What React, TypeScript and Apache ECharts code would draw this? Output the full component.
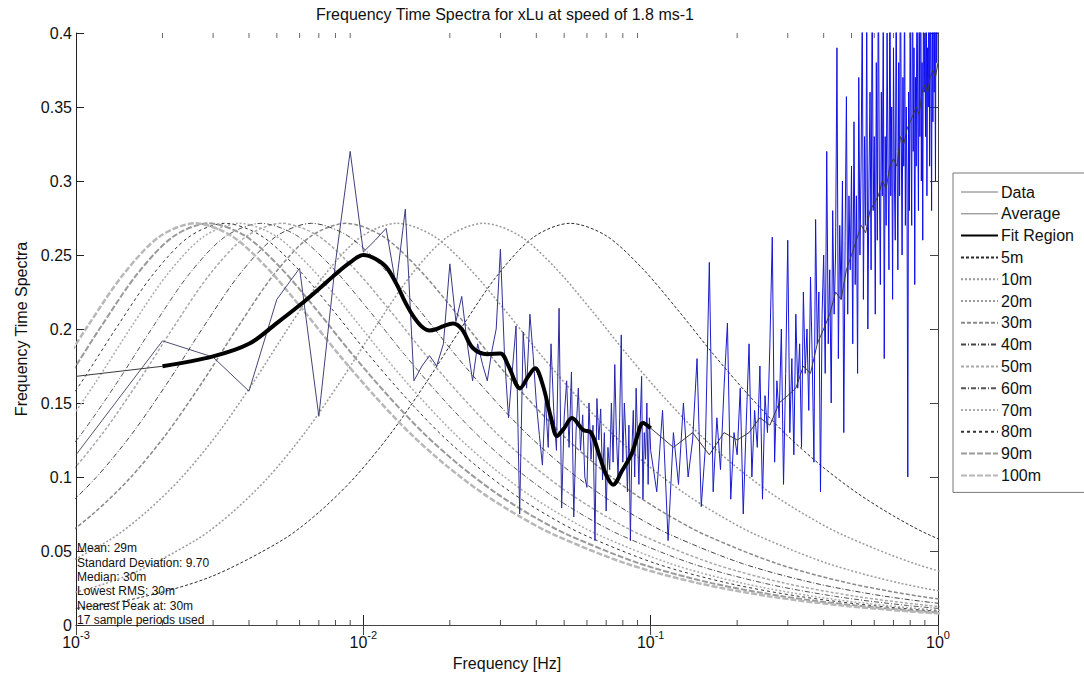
import React, { useEffect, useRef } from 'react';
import * as echarts from 'echarts';

const TITLE = 'Frequency Time Spectra for xLu at speed of 1.8 ms-1';
const X_NAME = 'Frequency [Hz]';
const Y_NAME = 'Frequency Time Spectra';
const STATS = [
  'Mean: 29m',
  'Standard Deviation: 9.70',
  'Median: 30m',
  'Lowest RMS: 30m',
  'Nearest Peak at: 30m',
  '17 sample periods used',
];

// Spectrum "Data": bins of 0.001 Hz from 0.001 to 0.100 Hz
const DATA_LOW_START = 0.001;
const DATA_LOW_STEP = 0.001;
const DATA_LOW = [
  0.115, 0.192, 0.181, 0.158, 0.22, 0.241, 0.141, 0.245, 0.32, 0.252,
  0.26, 0.268, 0.229, 0.281, 0.165, 0.175, 0.182, 0.175, 0.19, 0.244,
  0.205, 0.222, 0.19, 0.165, 0.19, 0.176, 0.165, 0.185, 0.2, 0.254,
  0.182, 0.14, 0.172, 0.202, 0.075, 0.198, 0.16, 0.21, 0.182, 0.15,
  0.128, 0.108, 0.153, 0.12, 0.19, 0.144, 0.118, 0.214, 0.079, 0.14,
  0.165, 0.12, 0.171, 0.073, 0.131, 0.16, 0.118, 0.142, 0.1, 0.093,
  0.15, 0.112, 0.135, 0.057, 0.153, 0.125, 0.146, 0.098, 0.13, 0.077,
  0.12, 0.105, 0.15, 0.11, 0.176, 0.128, 0.1, 0.14, 0.196, 0.11,
  0.15, 0.125, 0.09, 0.135, 0.057, 0.118, 0.145, 0.1, 0.16, 0.128,
  0.095, 0.138, 0.168, 0.085, 0.13, 0.112, 0.15, 0.095, 0.14, 0.118,
];
// Spectrum "Data": bins of 0.005 Hz from 0.105 to 1.0 Hz
const DATA_HIGH_START = 0.105;
const DATA_HIGH_STEP = 0.005;
const DATA_HIGH = [
  0.09, 0.145, 0.057, 0.13, 0.095, 0.15, 0.1, 0.125, 0.18, 0.08,
  0.12, 0.245, 0.09, 0.14, 0.105, 0.16, 0.204, 0.085, 0.13, 0.115,
  0.16, 0.075, 0.135, 0.19, 0.1, 0.145, 0.12, 0.175, 0.085, 0.155,
  0.13, 0.19, 0.262, 0.11, 0.165, 0.14, 0.2, 0.095, 0.17, 0.26,
  0.13, 0.18, 0.115, 0.21, 0.16, 0.19, 0.12, 0.225, 0.17, 0.2,
  0.145, 0.235, 0.18, 0.11, 0.274, 0.19, 0.225, 0.09, 0.21, 0.25,
  0.17, 0.32, 0.19, 0.24, 0.15, 0.28, 0.21, 0.25, 0.39, 0.18,
  0.27, 0.22, 0.3, 0.13, 0.26, 0.357, 0.21, 0.29, 0.24, 0.31,
  0.19, 0.34, 0.23, 0.29, 0.17, 0.37, 0.25, 0.31, 0.42, 0.22,
  0.33, 0.27, 0.41, 0.2, 0.3, 0.36, 0.24, 0.44, 0.28, 0.33,
  0.21, 0.38, 0.26, 0.45, 0.3, 0.23, 0.36, 0.29, 0.42, 0.18,
  0.33, 0.27, 0.4, 0.31, 0.24, 0.46, 0.29, 0.35, 0.22, 0.39,
  0.3, 0.26, 0.43, 0.32, 0.24, 0.38, 0.29, 0.47, 0.33, 0.25,
  0.37, 0.31, 0.44, 0.27, 0.35, 0.3, 0.1, 0.36, 0.28, 0.41,
  0.34, 0.27, 0.48, 0.32, 0.39, 0.23, 0.37, 0.31, 0.45, 0.35,
  0.28, 0.42, 0.33, 0.5, 0.3, 0.38, 0.26, 0.44, 0.36, 0.4,
  0.33, 0.46, 0.29, 0.39, 0.35, 0.52, 0.31, 0.43, 0.37, 0.28,
  0.45, 0.34, 0.49, 0.36, 0.41, 0.3, 0.47, 0.38, 0.44, 0.4,
];

// Smoothed average over the fit region (0.002 - 0.1 Hz)
const FIT_HZ = [
  0.002, 0.003, 0.004, 0.005, 0.006, 0.007, 0.008, 0.009, 0.01, 0.011,
  0.012, 0.013, 0.014, 0.015, 0.016, 0.017, 0.018, 0.019, 0.0205, 0.022,
  0.0241, 0.027, 0.03, 0.032, 0.0351, 0.0375, 0.0396, 0.042, 0.045, 0.0472,
  0.05, 0.0532, 0.0582, 0.062, 0.0667, 0.07, 0.074, 0.0794, 0.086, 0.09,
  0.094, 0.1,
];
const FIT_VALS = [
  0.1748, 0.1815, 0.19, 0.204, 0.216, 0.227, 0.237, 0.245, 0.25, 0.2475,
  0.242, 0.231, 0.218, 0.208, 0.2015, 0.199, 0.2, 0.202, 0.2037, 0.2,
  0.187, 0.183, 0.1835, 0.175, 0.16, 0.168, 0.1734, 0.163, 0.14, 0.1277,
  0.133, 0.1398, 0.1318, 0.13, 0.113, 0.1015, 0.0948, 0.104, 0.116, 0.128,
  0.1365, 0.133,
];
// Average outside the fit region
const AVG_FIRST_HZ = 0.001;
const AVG_FIRST_VAL = 0.168;
const AVG_HIGH_START = 0.12;
const AVG_HIGH_STEP = 0.02;
const AVG_HIGH = [
  0.12, 0.13, 0.115, 0.13, 0.125, 0.13, 0.14, 0.135, 0.15, 0.155,
  0.16, 0.175, 0.17, 0.19, 0.2, 0.21, 0.225, 0.22, 0.24, 0.25,
  0.26, 0.27, 0.265, 0.28, 0.285, 0.29, 0.3, 0.295, 0.31, 0.315,
  0.31, 0.33, 0.325, 0.335, 0.34, 0.345, 0.35, 0.345, 0.36, 0.365,
  0.36, 0.37, 0.375, 0.37, 0.38,
];

// Model spectra for each length scale: peak frequency read off the plot and
// common curve shape (value vs. decades from the peak)
const SCALE_NAMES = ['5m', '10m', '20m', '30m', '40m', '50m', '60m', '70m', '80m', '90m', '100m'];
const SCALE_PEAK_HZ = [0.0524, 0.0262, 0.0131, 0.0087, 0.0066, 0.0052, 0.0044, 0.0037, 0.0033, 0.0029, 0.0026];
const SHAPE_DECADES = [
  -3, -2.75, -2.5, -2.25, -2, -1.75, -1.5, -1.25, -1, -0.875, -0.75, -0.625, -0.5,
  -0.375, -0.25, -0.125, 0, 0.125, 0.25, 0.375, 0.5, 0.625, 0.75, 0.875, 1, 1.125,
  1.25, 1.5, 1.75, 2, 2.25, 2.5, 2.75, 3,
];
const SHAPE_VALS = [
  0.00058, 0.00104, 0.00184, 0.00327, 0.0058, 0.0104, 0.0184, 0.0326, 0.0575, 0.076, 0.0996, 0.1291, 0.164,
  0.2017, 0.237, 0.2623, 0.2714, 0.2631, 0.2413, 0.2129, 0.1827, 0.1546, 0.1291, 0.1075, 0.0891, 0.0738,
  0.0609, 0.0415, 0.0283, 0.0193, 0.0132, 0.009, 0.0061, 0.0042,
];

const SCALE_STYLES = [
  { color: '#2a2a2a', width: 1, type: [3, 2] },
  { color: '#9a9a9a', width: 1.5, type: [2, 2] },
  { color: '#9a9a9a', width: 1.5, type: [2, 2] },
  { color: '#8a8a8a', width: 1.5, type: [4, 2] },
  { color: '#444444', width: 1, type: [5, 2, 1, 2] },
  { color: '#a8a8a8', width: 1.5, type: [3, 2] },
  { color: '#555555', width: 1, type: [5, 2, 1, 2] },
  { color: '#ababab', width: 1.5, type: [2, 2] },
  { color: '#333333', width: 1, type: [3, 3] },
  { color: '#9a9a9a', width: 2, type: [6, 2] },
  { color: '#b8b8b8', width: 2.5, type: [6, 2] },
];

const MINOR_MULTS = [2, 3, 4, 5, 6, 7, 8, 9];
const DECADES = [0.001, 0.01, 0.1];

const FONT = '"Liberation Sans", Arial, sans-serif';

export default function App() {
  const ref = useRef<HTMLDivElement>(null);

  useEffect(() => {
    if (!ref.current) return;
    const chart = echarts.init(ref.current, undefined, { renderer: 'svg' });

    const dataPts: number[][] = [];
    DATA_LOW.forEach((v, i) => dataPts.push([DATA_LOW_START + i * DATA_LOW_STEP, v]));
    DATA_HIGH.forEach((v, i) => dataPts.push([DATA_HIGH_START + i * DATA_HIGH_STEP, v]));

    const fitPts = FIT_HZ.map((f, i) => [f, FIT_VALS[i]]);
    const avgPts: number[][] = [[AVG_FIRST_HZ, AVG_FIRST_VAL], ...fitPts];
    AVG_HIGH.forEach((v, i) => avgPts.push([AVG_HIGH_START + i * AVG_HIGH_STEP, v]));

    const minorTicks = DECADES.flatMap((d) => MINOR_MULTS.map((m) => d * m));

    const scaleSeries = SCALE_NAMES.map((name, k) => ({
      type: 'line',
      name,
      data: SHAPE_DECADES.map((d, i) => [SCALE_PEAK_HZ[k] * Math.pow(10, d), SHAPE_VALS[i]]),
      symbol: 'none',
      showSymbol: false,
      smooth: 0.3,
      silent: true,
      z: 1,
      itemStyle: { color: SCALE_STYLES[k].color },
      lineStyle: SCALE_STYLES[k],
    }));

    const dataGradient = new echarts.graphic.LinearGradient(0, 0, 1, 0, [
      { offset: 0, color: '#55556a' },
      { offset: 0.4, color: '#3a3a80' },
      { offset: 0.6, color: '#2626aa' },
      { offset: 0.8, color: '#1616d6' },
      { offset: 1, color: '#0a0af2' },
    ]);

    const option: any = {
      animation: false,
      backgroundColor: '#ffffff',
      textStyle: { fontFamily: FONT, color: '#111' },
      title: {
        text: TITLE,
        left: 316,
        top: 6,
        padding: 0,
        textStyle: { fontFamily: FONT, fontSize: 16, fontWeight: 'normal', color: '#111' },
      },
      grid: { left: 76, right: 146, top: 33, bottom: 48, containLabel: false },
      legend: {
        orient: 'vertical',
        left: 953,
        top: 173,
        padding: [11, 14, 9, 7],
        itemWidth: 37,
        itemHeight: 14,
        itemGap: 5.8,
        selectedMode: false,
        backgroundColor: '#ffffff',
        borderColor: '#777777',
        borderWidth: 1,
        borderRadius: 0,
        itemStyle: { opacity: 0 },
        textStyle: { fontFamily: FONT, fontSize: 16, color: '#111', padding: [0, 0, 0, -2] },
        data: [
          { name: 'Data', lineStyle: { color: '#777777', width: 1 } },
          { name: 'Average', lineStyle: { color: '#777777', width: 1 } },
          'Fit Region',
          ...SCALE_NAMES,
        ],
      },
      xAxis: [
        {
          type: 'log',
          logBase: 10,
          min: 0.001,
          max: 1,
          name: X_NAME,
          nameLocation: 'middle',
          nameGap: 30,
          nameTextStyle: { fontFamily: FONT, fontSize: 16, color: '#111' },
          axisLine: { show: true, lineStyle: { color: '#222', width: 1 } },
          axisTick: { show: true, inside: true, length: 10, lineStyle: { color: '#222' } },
          splitLine: { show: false },
          minorTick: { show: false },
          axisLabel: {
            margin: 4,
            formatter: (v: number) => `{b|10}{s|${Math.round(Math.log10(v))}}`,
            rich: {
              b: { fontFamily: FONT, fontSize: 16, lineHeight: 26, color: '#111' },
              s: { fontFamily: FONT, fontSize: 11, lineHeight: 11, verticalAlign: 'top', color: '#111' },
            },
          },
        },
        {
          type: 'log',
          logBase: 10,
          min: 0.001,
          max: 1,
          position: 'top',
          axisLine: { show: true, lineStyle: { color: '#444', width: 1 } },
          axisTick: { show: true, inside: true, length: 10, lineStyle: { color: '#444' } },
          axisLabel: { show: false },
          splitLine: { show: false },
        },
      ],
      yAxis: [
        {
          type: 'value',
          min: 0,
          max: 0.4,
          interval: 0.05,
          name: Y_NAME,
          nameLocation: 'middle',
          nameGap: 41,
          nameTextStyle: { fontFamily: FONT, fontSize: 16, color: '#111' },
          axisLine: { show: true, lineStyle: { color: '#222', width: 1 } },
          axisTick: { show: true, inside: true, length: 8, lineStyle: { color: '#222' } },
          splitLine: { show: false },
          axisLabel: { margin: 4, fontFamily: FONT, fontSize: 16, color: '#111' },
        },
        {
          type: 'value',
          min: 0,
          max: 0.4,
          interval: 0.05,
          position: 'right',
          axisLine: { show: true, lineStyle: { color: '#444', width: 1 } },
          axisTick: { show: true, inside: true, length: 8, lineStyle: { color: '#444' } },
          axisLabel: { show: false },
          splitLine: { show: false },
        },
      ],
      graphic: [
        {
          type: 'text',
          left: 77,
          top: 541,
          z: 100,
          silent: true,
          style: {
            text: STATS.join('\n'),
            fontFamily: FONT,
            fontSize: 12,
            lineHeight: 14.4,
            fill: '#111',
          },
        },
      ],
      series: [
        {
          type: 'line',
          name: 'Data',
          data: dataPts,
          symbol: 'none',
          showSymbol: false,
          silent: true,
          z: 3,
          itemStyle: { color: '#777777' },
          lineStyle: { color: dataGradient, width: 1 },
        },
        {
          type: 'line',
          name: 'Average',
          data: avgPts,
          symbol: 'none',
          showSymbol: false,
          silent: true,
          z: 4,
          itemStyle: { color: '#777777' },
          lineStyle: { color: '#3a3a3a', width: 1 },
        },
        {
          type: 'line',
          name: 'Fit Region',
          data: fitPts,
          symbol: 'none',
          showSymbol: false,
          smooth: 0.35,
          silent: true,
          z: 5,
          itemStyle: { color: '#000000' },
          lineStyle: { color: '#000000', width: 4 },
        },
        ...scaleSeries,
        {
          type: 'scatter',
          name: 'minorBottom',
          data: minorTicks.map((f) => [f, 0]),
          symbol: 'rect',
          symbolSize: [1, 5],
          symbolOffset: [0, -2.5],
          itemStyle: { color: '#222' },
          silent: true,
          clip: false,
          z: 6,
        },
        {
          type: 'scatter',
          name: 'minorTop',
          data: minorTicks.map((f) => [f, 0.4]),
          symbol: 'rect',
          symbolSize: [1, 5],
          symbolOffset: [0, 2.5],
          itemStyle: { color: '#444' },
          silent: true,
          clip: false,
          z: 6,
        },
      ],
    };

    chart.setOption(option);
    return () => chart.dispose();
  }, []);

  return (
    <div
      ref={ref}
      style={{ position: 'absolute', left: 0, top: 0, width: 1084, height: 676, background: '#fff' }}
    />
  );
}
